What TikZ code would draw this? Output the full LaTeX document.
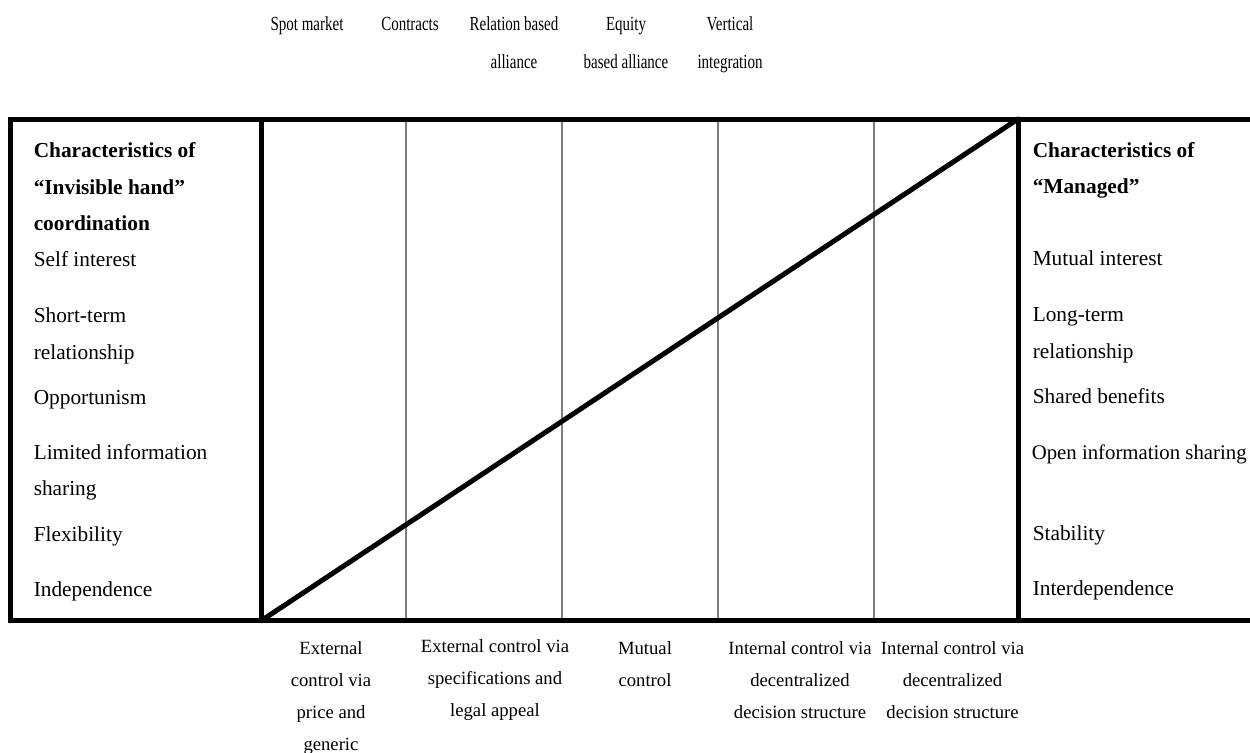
\documentclass[tikz,border=0pt]{standalone}
\usepackage{fontspec}
\setmainfont{Liberation Serif}
\newfontfamily\narrowserif[FakeStretch=0.75]{Liberation Serif}
\begin{document}
\begin{tikzpicture}[x=0.75pt,y=-0.75pt,
  thickline/.style={line width=3.75pt,line cap=rect},
  thinline/.style={line width=0.8pt,draw=black!50},
  sidetext/.style={anchor=base west,inner sep=0pt,font=\fontsize{16}{19}\selectfont},
  sidehead/.style={sidetext,font=\fontsize{16}{19}\selectfont\bfseries},
  toptext/.style={anchor=base,inner sep=0pt,align=center,font=\narrowserif\fontsize{15}{28.2}\selectfont},
  bottext/.style={anchor=base,inner sep=0pt,align=center,font=\fontsize{14}{23.8}\selectfont}]
\useasboundingbox (0,0) rectangle (1250,753);
% frame coordinates
\coordinate (tl) at (10.8,119);
\coordinate (bl) at (10.8,620.5);
\coordinate (tr) at (1250,119);
\coordinate (br) at (1250,620.5);
\coordinate (lt) at (261.5,119);
\coordinate (lb) at (261.5,620.5);
\coordinate (rt) at (1018,119);
\coordinate (rb) at (1018,620.5);
% thin dividers
\foreach \i/\x in {1/406,2/562,3/718,4/874}{
  \coordinate (d\i t) at (\x,119);
  \coordinate (d\i b) at (\x,620.5);
  \draw[thinline] (d\i t) -- (d\i b);
}
% thick frame
\draw[thickline] (tr) -- (tl) -- (bl) -- (br);
\draw[thickline] (lt) -- (lb);
\draw[thickline] (rt) -- (rb);
\draw[line width=3.75pt,line cap=round] (lb) -- (rt);
% top labels (anchor = baseline of last line)
\node[toptext] (spot) at (307,30.7) {Spot market};
\node[toptext] (contr) at (410,30.7) {Contracts};
\node[toptext] (relall) at (514,68.3) {Relation based\\alliance};
\node[toptext] (eqall) at (626,68.3) {Equity\\based alliance};
\node[toptext] (vert) at (730,68.3) {Vertical\\integration};
% left column
\node[sidehead] (lh1) at (33.5,157) {Characteristics of};
\node[sidehead] (lh2) at (33.5,194) {“Invisible hand”};
\node[sidehead] (lh3) at (33.5,230) {coordination};
\node[sidetext] (l1) at (33.5,266) {Self interest};
\node[sidetext] (l2a) at (33.5,322.7) {Short-term};
\node[sidetext] (l2b) at (33.5,359) {relationship};
\node[sidetext] (l3) at (33.5,404) {Opportunism};
\node[sidetext] (l4a) at (33.5,459) {Limited information};
\node[sidetext] (l4b) at (33.5,495) {sharing};
\node[sidetext] (l5) at (33.5,541.7) {Flexibility};
\node[sidetext] (l6) at (33.5,596.7) {Independence};
% right column
\node[sidehead] (rh1) at (1032.5,157) {Characteristics of};
\node[sidehead] (rh2) at (1032.5,193) {“Managed”};
\node[sidetext] (r1) at (1032.5,265) {Mutual interest};
\node[sidetext] (r2a) at (1032.5,321.7) {Long-term};
\node[sidetext] (r2b) at (1032.5,358) {relationship};
\node[sidetext] (r3) at (1032.5,403) {Shared benefits};
\node[sidetext,font=\fontsize{15.6}{19}\selectfont] (r4) at (1031.5,459) {Open information sharing};
\node[sidetext] (r5) at (1032.5,540) {Stability};
\node[sidetext] (r6) at (1032.5,595) {Interdependence};
% bottom labels (anchor = baseline of last line)
\node[bottext] (b1) at (331,750.1) {External\\control via\\price and\\generic};
\node[bottext] (b2) at (495,716.4) {External control via\\specifications and\\legal appeal};
\node[bottext] (b3) at (645,686.7) {Mutual\\control};
\node[bottext] (b4) at (800,718.4) {Internal control via\\decentralized\\decision structure};
\node[bottext] (b5) at (952.5,718.4) {Internal control via\\decentralized\\decision structure};
\end{tikzpicture}
\end{document}
